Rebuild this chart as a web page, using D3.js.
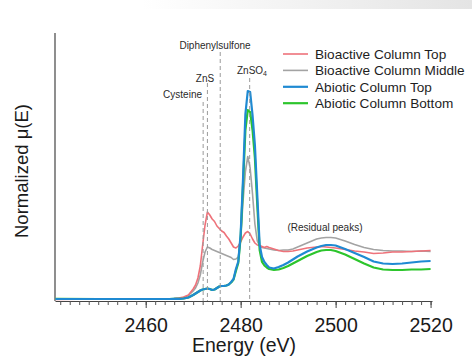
<!DOCTYPE html>
<html>
<head>
<meta charset="utf-8">
<script src="https://cdn.jsdelivr.net/npm/d3@7"></script>
<style>
  body { margin: 0; background: #fff; }
  svg { display: block; font-family: "Liberation Sans", Arial, sans-serif; }
</style>
</head>
<body>
<svg id="graph"></svg>
<script>
// energy grid (eV) shared by the four spectra
var energy = [2441, 2450, 2460, 2465, 2466, 2467, 2468, 2469,
  2470, 2470.5, 2471, 2471.5, 2472, 2472.5, 2473, 2473.5, 2474, 2474.5, 2475, 2475.5,
  2476, 2476.5, 2477, 2477.5, 2478, 2478.5, 2479, 2479.5, 2480, 2480.5, 2481, 2481.5,
  2482, 2482.5, 2483, 2483.5, 2484, 2484.5, 2485, 2485.5, 2486,
  2487, 2488, 2489, 2490, 2491, 2492, 2493, 2494, 2495, 2496, 2497, 2498, 2499, 2500,
  2502, 2504, 2506, 2508, 2510, 2512, 2514, 2516, 2518, 2520];

var bioactiveTop = [-0.01, 0, 0, 0.004, 0.01, 0.02, 0.04, 0.08,
  0.2, 0.28, 0.42, 0.66, 1.08, 1.48, 1.74, 1.68, 1.6, 1.55, 1.46, 1.41,
  1.36, 1.33, 1.26, 1.2, 1.12, 1.04, 1.02, 1.06, 1.14, 1.24, 1.32, 1.35,
  1.3, 1.2, 1.12, 1.08, 1.07, 1.05, 1.03, 1.05, 1.03,
  1.0, 0.97, 0.95, 0.95, 0.96, 0.98, 1.0, 1.02, 1.03, 1.04, 1.05, 1.04, 1.03, 1.02,
  0.99, 0.96, 0.94, 0.91, 0.92, 0.94, 0.94, 0.95, 0.96, 0.97];

var bioactiveMiddle = [0, 0, 0, 0.004, 0.01, 0.02, 0.03, 0.07,
  0.16, 0.22, 0.32, 0.48, 0.74, 0.94, 1.04, 1.02, 0.99, 0.97, 0.95, 0.93,
  0.91, 0.89, 0.87, 0.85, 0.83, 0.79, 0.8, 0.84, 1.2, 1.95, 2.55, 2.85,
  2.62, 2.1, 1.5, 1.16, 1.06, 1.03, 1.02, 1.01, 1.0,
  0.98, 0.97, 0.98, 0.98, 1.0, 1.04, 1.08, 1.12, 1.16, 1.2, 1.22, 1.23, 1.23, 1.22,
  1.16, 1.09, 1.03, 0.99, 0.97, 0.96, 0.96, 0.95, 0.96, 0.95];

var abioticTop = [0, 0, 0, 0, 0.002, 0.004, 0.01, 0.03,
  0.08, 0.11, 0.14, 0.17, 0.19, 0.2, 0.21, 0.2, 0.18, 0.19, 0.22, 0.25,
  0.26, 0.26, 0.27, 0.29, 0.34, 0.4, 0.6, 0.75, 1.3, 2.4, 3.7, 4.16,
  4.14, 3.68, 3.08, 2.08, 1.08, 0.84, 0.74, 0.68, 0.63,
  0.61, 0.64, 0.68, 0.73, 0.79, 0.85, 0.9, 0.95, 0.99, 1.03, 1.06, 1.08, 1.08, 1.07,
  1.0, 0.92, 0.84, 0.75, 0.71, 0.7, 0.71, 0.73, 0.75, 0.76];

var abioticBottom = [0.005, 0, 0, 0, 0.002, 0.004, 0.01, 0.03,
  0.08, 0.11, 0.14, 0.17, 0.19, 0.2, 0.21, 0.2, 0.18, 0.19, 0.22, 0.25,
  0.26, 0.26, 0.27, 0.29, 0.33, 0.39, 0.56, 0.72, 1.24, 2.28, 3.38, 3.78,
  3.74, 3.38, 2.82, 1.88, 0.98, 0.74, 0.67, 0.63, 0.6,
  0.58, 0.59, 0.62, 0.66, 0.71, 0.76, 0.81, 0.86, 0.9, 0.94, 0.97, 0.98, 0.98, 0.96,
  0.89, 0.8, 0.71, 0.63, 0.59, 0.58, 0.58, 0.59, 0.59, 0.6];

var seriesNames = ["Bioactive Column Top", "Bioactive Column Middle", "Abiotic Column Top", "Abiotic Column Bottom"];
var seriesValues = [bioactiveTop, bioactiveMiddle, abioticTop, abioticBottom];

// reference compound edge positions (eV)
var refNames = ["Cysteine", "ZnS", "Diphenylsulfone", "ZnSO4"];
var refEnergy = [2472.1, 2473.0, 2475.7, 2481.9];

var majorTicks = [2460, 2480, 2500, 2520];

var drawChart = function(svgSelector)
{
  var screen = {width: 472, height: 362};
  var colors = ["#ee727a", "#a3a3a3", "#1f8ad2", "#2cc52c"];
  var widths = [1.6, 1.6, 2.2, 2.2];
  var font = "'Liberation Sans', Arial, sans-serif";

  var svg = d3.select(svgSelector)
              .attr("width", screen.width)
              .attr("height", screen.height);

  // faint grey band at the very top of the picture
  var grad = svg.append("defs").append("linearGradient")
                .attr("id", "topband");
  grad.append("stop").attr("offset", "30%").attr("stop-color", "#ffffff");
  grad.append("stop").attr("offset", "100%").attr("stop-color", "#e4e4e4");
  svg.append("rect")
     .attr("x", 0).attr("y", 0)
     .attr("width", screen.width).attr("height", 9)
     .attr("fill", "url(#topband)");

  var xScale = d3.scaleLinear()
                 .domain([2440.9, 2520.3])
                 .range([55, 432]);

  var yScale = d3.scaleLinear()
                 .domain([-0.04, 5.32])
                 .range([301, 33]);

  // y axis: plain line, no ticks
  svg.append("line")
     .attr("x1", 55).attr("x2", 55)
     .attr("y1", yScale(5.32)).attr("y2", yScale(-0.04))
     .style("stroke", "#444")
     .style("stroke-width", 1.2);

  // minor ticks
  svg.append("g")
     .attr("transform", "translate(0," + yScale(-0.04) + ")")
     .call(d3.axisBottom(xScale)
             .tickValues(d3.range(2442, 2521, 2))
             .tickSize(4)
             .tickSizeOuter(0)
             .tickFormat(""))
     .call(function(g){
        g.select(".domain").style("stroke", "#444").style("stroke-width", 1.2);
        g.selectAll(".tick line").style("stroke", "#555");
     });

  // major ticks and labels
  svg.append("g")
     .attr("transform", "translate(0," + yScale(-0.04) + ")")
     .call(d3.axisBottom(xScale)
             .tickValues(majorTicks)
             .tickSize(7)
             .tickSizeOuter(0)
             .tickPadding(10)
             .tickFormat(d3.format("d")))
     .call(function(g){
        g.select(".domain").remove();
        g.selectAll(".tick line").style("stroke", "#444");
        g.selectAll(".tick text")
         .attr("font-size", 19.5)
         .attr("font-family", font)
         .attr("fill", "#1a1a1a");
     });

  svg.append("text")
     .text("Energy (eV)")
     .attr("x", 244)
     .attr("y", 352)
     .attr("text-anchor", "middle")
     .attr("font-size", 19.5)
     .attr("fill", "#1a1a1a");

  svg.append("text")
     .text("Normalized \u03bc(E)")
     .attr("transform", "translate(28,171) rotate(-90)")
     .attr("text-anchor", "middle")
     .attr("font-size", 18.5)
     .attr("fill", "#1a1a1a");

  var line = d3.line()
               .x(function(d){return xScale(d[0]);})
               .y(function(d){return yScale(d[1]);});

  var drawOrder = [1, 0, 3, 2];
  svg.append("g")
     .selectAll("path")
     .data(drawOrder)
     .enter()
     .append("path")
     .attr("d", function(s){
        return line(energy.map(function(e, i){return [e, seriesValues[s][i]];}));
     })
     .attr("fill", "none")
     .style("stroke", function(s){return colors[s];})
     .style("stroke-width", function(s){return widths[s];})
     .style("stroke-linejoin", "round");

  // dashed reference lines, drawn over the spectra
  var refTop = [3.94, 4.32, 4.94, 4.42];
  svg.append("g")
     .selectAll("line")
     .data(refEnergy)
     .enter()
     .append("line")
     .attr("x1", function(d){return xScale(d);})
     .attr("x2", function(d){return xScale(d);})
     .attr("y1", function(d, i){return yScale(refTop[i]);})
     .attr("y2", yScale(-0.04))
     .style("stroke", "#9a9a9a")
     .style("stroke-width", 1)
     .style("stroke-dasharray", "4,3");

  // reference labels
  var labels = svg.append("g")
                  .attr("font-size", 10)
                  .attr("fill", "#2a2a2a");
  labels.append("text").text(refNames[0])
        .attr("x", 202).attr("y", 98).attr("text-anchor", "end");
  labels.append("text").text(refNames[1])
        .attr("x", 205).attr("y", 82).attr("text-anchor", "middle");
  labels.append("text").text(refNames[2])
        .attr("x", 215).attr("y", 49).attr("text-anchor", "middle");
  var zn = labels.append("text")
        .attr("x", 252).attr("y", 74).attr("text-anchor", "middle");
  zn.append("tspan").text("ZnSO");
  zn.append("tspan").text("4").attr("font-size", 7).attr("dy", 2);
  labels.append("text").text("(Residual peaks)")
        .attr("x", 325).attr("y", 231).attr("text-anchor", "middle");

  // legend
  var legend = svg.append("g")
                  .attr("transform", "translate(283,54)")
                  .classed("legend", true);
  var legendLines = legend.selectAll("g")
                          .data(seriesNames)
                          .enter()
                          .append("g")
                          .attr("transform", function(d, i){return "translate(0," + (i*16.4) + ")";});
  legendLines.append("line")
             .attr("x1", 0).attr("x2", 25)
             .attr("y1", 0).attr("y2", 0)
             .style("stroke", function(d, i){return colors[i];})
             .style("stroke-width", function(d, i){return widths[i];});
  legendLines.append("text")
             .text(function(d){return d;})
             .attr("x", 32)
             .attr("y", 4.8)
             .attr("font-size", 13.6)
             .attr("fill", "#1e1e1e");
}

drawChart("#graph");
</script>
</body>
</html>
